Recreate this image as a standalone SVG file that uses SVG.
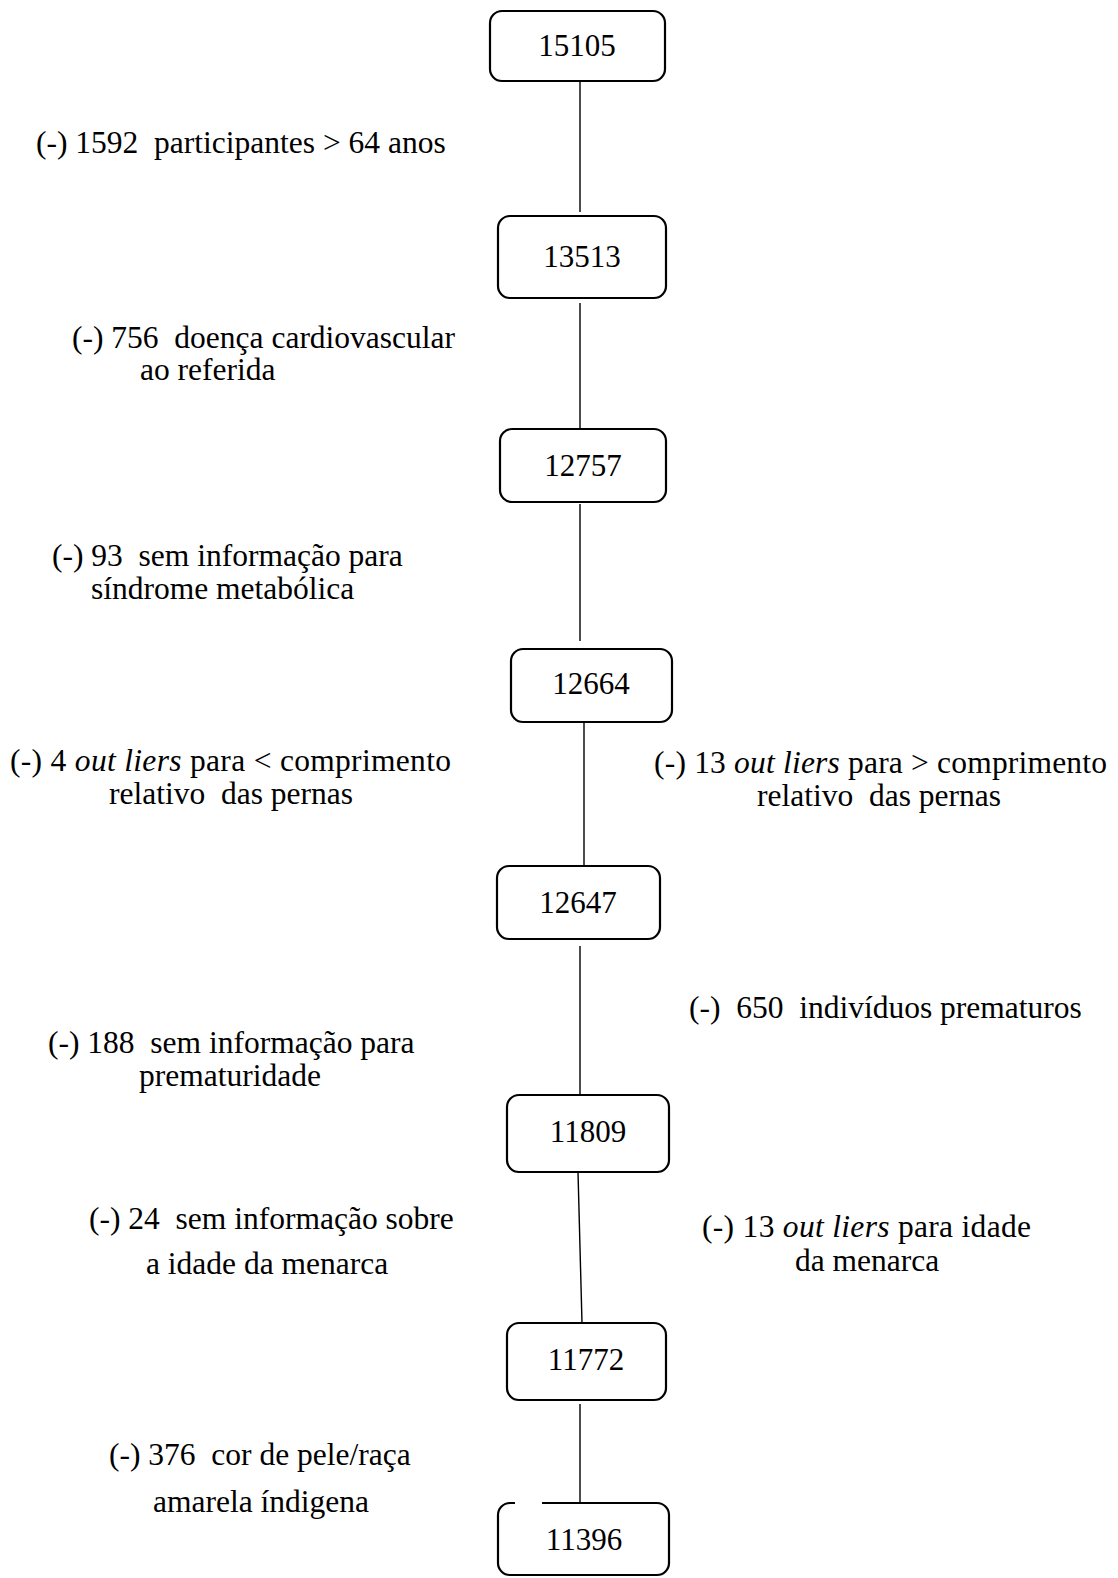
<svg xmlns="http://www.w3.org/2000/svg" width="1118" height="1578" viewBox="0 0 1118 1578">
<style>
.box{fill:#fff;stroke:#000;stroke-width:2.2}
.n{font-family:"Liberation Serif","Times New Roman",serif;font-size:31px;fill:#000;text-anchor:middle}
.t{font-family:"Liberation Serif","Times New Roman",serif;font-size:31.5px;fill:#000;white-space:pre}
.i{font-style:italic}
.c{stroke:#000;stroke-width:1.4;fill:none}
</style>
<rect width="1118" height="1578" fill="#fff"/>
<g id="connectors">
<line class="c" x1="580" y1="81" x2="580" y2="212"/>
<line class="c" x1="580" y1="303" x2="580" y2="432"/>
<line class="c" x1="580" y1="504" x2="580" y2="641"/>
<line class="c" x1="584" y1="723" x2="584" y2="866"/>
<line class="c" x1="580" y1="946" x2="580" y2="1095"/>
<line class="c" x1="578" y1="1172" x2="582" y2="1323"/>
<line class="c" x1="580" y1="1404" x2="580" y2="1503"/>
</g>
<g id="n15105"><rect class="box" x="490" y="11" width="175" height="70" rx="12"/><text class="n" x="577" y="56">15105</text></g>
<g id="n13513"><rect class="box" x="498" y="216" width="168" height="82" rx="12"/><text class="n" x="582" y="267">13513</text></g>
<g id="n12757"><rect class="box" x="500" y="429" width="166" height="73" rx="12"/><text class="n" x="583" y="476">12757</text></g>
<g id="n12664"><rect class="box" x="511" y="649" width="161" height="73" rx="12"/><text class="n" x="591" y="694">12664</text></g>
<g id="n12647"><rect class="box" x="497" y="866" width="163" height="73" rx="12"/><text class="n" x="578" y="913">12647</text></g>
<g id="n11809"><rect class="box" x="507" y="1095" width="162" height="77" rx="12"/><text class="n" x="588" y="1142">11809</text></g>
<g id="n11772"><rect class="box" x="507" y="1323" width="159" height="77" rx="12"/><text class="n" x="586" y="1370">11772</text></g>
<g id="n11396"><rect class="box" x="498" y="1503" width="171" height="72" rx="12"/><rect x="515" y="1499" width="27" height="8" fill="#fff"/><text class="n" x="584" y="1550">11396</text></g>
<g id="labels" xml:space="preserve">
<text class="t" x="36" y="153">(-) 1592  participantes &gt; 64 anos</text>
<text class="t" x="72" y="348">(-) 756  doença cardiovascular</text>
<text class="t" x="140" y="380">ao referida</text>
<text class="t" x="52" y="566">(-) 93  sem informação para</text>
<text class="t" x="91" y="599">síndrome metabólica</text>
<text class="t" x="10" y="771" textLength="441" lengthAdjust="spacing">(-) 4 <tspan class="i">out liers</tspan> para &lt; comprimento</text>
<text class="t" x="109" y="804">relativo  das pernas</text>
<text class="t" x="654" y="773" textLength="453" lengthAdjust="spacing">(-) 13 <tspan class="i">out liers</tspan> para &gt; comprimento</text>
<text class="t" x="757" y="806">relativo  das pernas</text>
<text class="t" x="689" y="1018">(-)  650  indivíduos prematuros</text>
<text class="t" x="48" y="1053">(-) 188  sem informação para</text>
<text class="t" x="139" y="1086">prematuridade</text>
<text class="t" x="89" y="1229">(-) 24  sem informação sobre</text>
<text class="t" x="146" y="1274">a idade da menarca</text>
<text class="t" x="702" y="1237" textLength="329" lengthAdjust="spacing">(-) 13 <tspan class="i">out liers</tspan> para idade</text>
<text class="t" x="795" y="1271">da menarca</text>
<text class="t" x="109" y="1465">(-) 376  cor de pele/raça</text>
<text class="t" x="153" y="1512">amarela índigena</text>
</g>
</svg>
